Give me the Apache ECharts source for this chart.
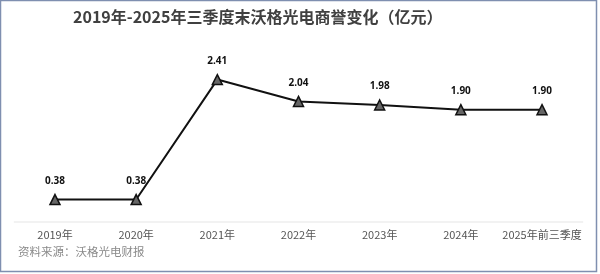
<!DOCTYPE html>
<html><head><meta charset="utf-8">
<script src="https://cdn.jsdelivr.net/npm/echarts@6/dist/echarts.min.js"></script>
<style>html,body{margin:0;padding:0;background:#fff}#c{width:600px;height:274px}</style>
</head><body><div id="c"></div>
<script>
const categories = ['2019年','2020年','2021年','2022年','2023年','2024年','2025年前三季度'];
const goodwill = [0.38, 0.38, 2.41, 2.04, 1.98, 1.90, 1.90];
const titleText = '2019年-2025年三季度末沃格光电商誉变化（亿元）';
const sourceText = '资料来源：沃格光电财报';

const chart = echarts.init(document.getElementById('c'), null, {renderer:'canvas'});
chart.setOption({
  animation:false,
  backgroundColor:'#fff',
  title:{text:titleText,left:68,top:4,textStyle:{fontFamily:'Noto Sans CJK SC',fontSize:16,fontWeight:'bold',color:'#404040'}},
  graphic:[
    {type:'rect',shape:{x:0.5,y:0.5,width:596,height:271},style:{fill:'none',stroke:'#7f8fb0',lineWidth:1.5},silent:true},
    {type:'text',left:18,top:246,style:{text:sourceText,fontFamily:'Noto Sans CJK SC',fontSize:11.5,fill:'#8a8a8a'}}
  ],
  grid:{left:14.4,right:17.4,top:44.7,bottom:52},
  xAxis:{type:'category',data:categories,boundaryGap:true,
    axisLine:{lineStyle:{color:'#eeeeee',width:1.5}},axisTick:{show:false},
    axisLabel:{color:'#555',fontSize:11,fontFamily:'Noto Sans CJK SC',margin:7,interval:0}},
  yAxis:{type:'value',min:0,max:3,show:false,splitLine:{show:false}},
  series:[{type:'line',data:goodwill,symbol:'triangle',symbolSize:10,
    lineStyle:{color:'#111',width:2},
    itemStyle:{color:'#666',borderColor:'#111',borderWidth:1.5},
    label:{show:true,position:'top',distance:8,formatter:p=>p.value.toFixed(2),
      fontSize:10,fontWeight:'bold',color:'#111',fontFamily:'Noto Sans'}}]
});
</script></body></html>
